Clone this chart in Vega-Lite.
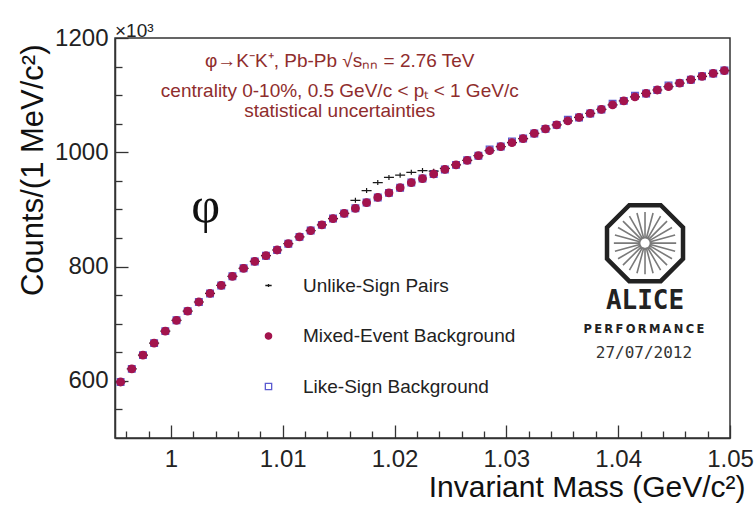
{
  "$schema": "https://vega.github.io/schema/vega-lite/v6.json",
  "width": 615,
  "height": 400,
  "autosize": {"type": "none"},
  "padding": {"left": 115, "top": 38, "right": 26, "bottom": 67},
  "background": "white",
  "title": {"text": "×10³", "anchor": "start", "frame": "group", "fontSize": 19, "fontWeight": "normal", "font": "Liberation Sans", "color": "#222", "offset": 4, "dy": 19},
  "config": {
    "view": {"stroke": "#333", "strokeWidth": 1.5},
    "axis": {"grid": true, "gridColor": "#333", "gridWidth": 1.3, "gridOpacity": 1, "ticks": false, "tickSize": 0, "domainColor": "#333", "domainWidth": 1.5, "labelFont": "Liberation Sans", "labelFontSize": 24, "labelColor": "#222", "titleFont": "Liberation Sans", "titleFontWeight": "normal", "titleColor": "#111"}
  },
  "datasets": {
    "bins": [
      {"m": 0.9955, "bkg": 598, "unlike": 598, "like": 598},
      {"m": 0.9965, "bkg": 621, "unlike": 621, "like": 621},
      {"m": 0.9975, "bkg": 645, "unlike": 645, "like": 645},
      {"m": 0.9985, "bkg": 666, "unlike": 666, "like": 666},
      {"m": 0.9995, "bkg": 687, "unlike": 687, "like": 687},
      {"m": 1.0005, "bkg": 706, "unlike": 706, "like": 706},
      {"m": 1.0015, "bkg": 722, "unlike": 722, "like": 722},
      {"m": 1.0025, "bkg": 738, "unlike": 738, "like": 738},
      {"m": 1.0035, "bkg": 753, "unlike": 753, "like": 753},
      {"m": 1.0045, "bkg": 767, "unlike": 767, "like": 767},
      {"m": 1.0055, "bkg": 783, "unlike": 783, "like": 783},
      {"m": 1.0065, "bkg": 797, "unlike": 797, "like": 797},
      {"m": 1.0075, "bkg": 809, "unlike": 809, "like": 809},
      {"m": 1.0085, "bkg": 819, "unlike": 819, "like": 819},
      {"m": 1.0095, "bkg": 829, "unlike": 829, "like": 829},
      {"m": 1.0105, "bkg": 840, "unlike": 840, "like": 840},
      {"m": 1.0115, "bkg": 852, "unlike": 852, "like": 852},
      {"m": 1.0125, "bkg": 863, "unlike": 863, "like": 863},
      {"m": 1.0135, "bkg": 873, "unlike": 873, "like": 873},
      {"m": 1.0145, "bkg": 884, "unlike": 884, "like": 884},
      {"m": 1.0155, "bkg": 893, "unlike": 893, "like": 893},
      {"m": 1.0165, "bkg": 902, "unlike": 916, "like": 902},
      {"m": 1.0175, "bkg": 912, "unlike": 933, "like": 912},
      {"m": 1.0185, "bkg": 921, "unlike": 947, "like": 921},
      {"m": 1.0195, "bkg": 929, "unlike": 956, "like": 929},
      {"m": 1.0205, "bkg": 938, "unlike": 960, "like": 938},
      {"m": 1.0215, "bkg": 947, "unlike": 965, "like": 947},
      {"m": 1.0225, "bkg": 954, "unlike": 968, "like": 954},
      {"m": 1.0235, "bkg": 962, "unlike": 967, "like": 962},
      {"m": 1.0245, "bkg": 970, "unlike": 972, "like": 970},
      {"m": 1.0255, "bkg": 978, "unlike": 978, "like": 978},
      {"m": 1.0265, "bkg": 986, "unlike": 986, "like": 986},
      {"m": 1.0275, "bkg": 994, "unlike": 994, "like": 994},
      {"m": 1.0285, "bkg": 1003, "unlike": 1003, "like": 1005},
      {"m": 1.0295, "bkg": 1010, "unlike": 1010, "like": 1010},
      {"m": 1.0305, "bkg": 1017, "unlike": 1017, "like": 1019},
      {"m": 1.0315, "bkg": 1024, "unlike": 1024, "like": 1024},
      {"m": 1.0325, "bkg": 1033, "unlike": 1033, "like": 1033},
      {"m": 1.0335, "bkg": 1041, "unlike": 1041, "like": 1041},
      {"m": 1.0345, "bkg": 1048, "unlike": 1048, "like": 1048},
      {"m": 1.0355, "bkg": 1055, "unlike": 1055, "like": 1057},
      {"m": 1.0365, "bkg": 1061, "unlike": 1061, "like": 1061},
      {"m": 1.0375, "bkg": 1068, "unlike": 1068, "like": 1068},
      {"m": 1.0385, "bkg": 1075, "unlike": 1075, "like": 1075},
      {"m": 1.0395, "bkg": 1083, "unlike": 1083, "like": 1085},
      {"m": 1.0405, "bkg": 1090, "unlike": 1090, "like": 1090},
      {"m": 1.0415, "bkg": 1097, "unlike": 1097, "like": 1099},
      {"m": 1.0425, "bkg": 1103, "unlike": 1103, "like": 1103},
      {"m": 1.0435, "bkg": 1109, "unlike": 1109, "like": 1109},
      {"m": 1.0445, "bkg": 1115, "unlike": 1115, "like": 1117},
      {"m": 1.0455, "bkg": 1121, "unlike": 1121, "like": 1121},
      {"m": 1.0465, "bkg": 1127, "unlike": 1127, "like": 1127},
      {"m": 1.0475, "bkg": 1133, "unlike": 1133, "like": 1133},
      {"m": 1.0485, "bkg": 1138, "unlike": 1138, "like": 1138},
      {"m": 1.0495, "bkg": 1143, "unlike": 1143, "like": 1143}
    ]
  },
  "encoding": {
    "x": {
      "field": "m", "type": "quantitative",
      "scale": {"domain": [0.995, 1.05], "nice": false, "zero": false},
      "axis": {
        "values": [0.996, 0.998, 1, 1.002, 1.004, 1.006, 1.008, 1.01, 1.012, 1.014, 1.016, 1.018, 1.02, 1.022, 1.024, 1.026, 1.028, 1.03, 1.032, 1.034, 1.036, 1.038, 1.04, 1.042, 1.044, 1.046, 1.048, 1.05],
        "format": ".2~f",
        "labelExpr": "abs(datum.value*100 - round(datum.value*100)) < 0.001 ? datum.label : ''",
        "gridDash": {"condition": {"test": "abs(datum.value*100 - round(datum.value*100)) < 0.001", "value": [0, 387, 13, 2000]}, "value": [0, 393, 7, 2000]},
        "labelPadding": 9,
        "labelFlush": false,
        "labelOverlap": false,
        "title": "Invariant Mass (GeV/c²)",
        "titleFontSize": 30,
        "titleAnchor": "end",
        "titleAlign": "right",
        "titleBaseline": "alphabetic",
        "titleX": 630,
        "titleY": 58
      }
    },
    "y": {
      "field": "v", "type": "quantitative",
      "scale": {"domain": [500, 1200], "nice": false, "zero": false},
      "axis": {
        "values": [550, 600, 650, 700, 750, 800, 850, 900, 950, 1000, 1050, 1100, 1150, 1200],
        "format": "d",
        "labelExpr": "datum.value % 200 == 0 ? datum.label : ''",
        "gridDash": {"condition": {"test": "datum.value % 200 == 0", "value": [13, 2000]}, "value": [7, 2000]},
        "labelPadding": 7,
        "labelFlush": false,
        "labelOverlap": false,
        "title": "Counts/(1 MeV/c²)",
        "titleFontSize": 31,
        "titleAnchor": "end",
        "titleAlign": "right",
        "titleBaseline": "alphabetic",
        "titleAngle": -90,
        "titleX": -73,
        "titleY": 6
      }
    }
  },
  "layer": [
    {
      "data": {"name": "bins"},
      "transform": [{"fold": ["like"], "as": ["series", "v"]}],
      "mark": {"type": "point", "filled": true, "opacity": 1, "strokeWidth": 1.2, "size": 45},
      "encoding": {
        "shape": {
          "field": "series", "type": "nominal",
          "scale": {"domain": ["unlike", "bkg", "like"], "range": ["M-1,0L1,0M0,-0.5L0,0.5", "circle", "square"]},
          "legend": {
            "title": null, "orient": "none", "legendX": 144, "legendY": 238, "direction": "vertical",
            "labelExpr": "datum.label == 'unlike' ? 'Unlike-Sign Pairs' : datum.label == 'bkg' ? 'Mixed-Event Background' : 'Like-Sign Background'",
            "labelFontSize": 19, "labelFont": "Liberation Sans", "labelColor": "#222", "labelLimit": 400,
            "symbolSize": 40, "symbolStrokeWidth": 1.3, "rowPadding": 30.5, "labelOffset": 25, "padding": 0
          }
        },
        "fill": {"field": "series", "type": "nominal", "scale": {"domain": ["unlike", "bkg", "like"], "range": ["transparent", "#a3144d", "transparent"]}},
        "stroke": {"field": "series", "type": "nominal", "scale": {"domain": ["unlike", "bkg", "like"], "range": ["#1a1a1a", "#a3144d", "#5a5ad0"]}}
      }
    },
    {
      "data": {"name": "bins"},
      "transform": [{"fold": ["unlike"], "as": ["series", "v"]}],
      "mark": {"type": "point", "filled": true, "opacity": 1, "strokeWidth": 1.2, "size": 100},
      "encoding": {
        "shape": {"field": "series", "type": "nominal", "scale": {"domain": ["unlike", "bkg", "like"], "range": ["M-1,0L1,0M0,-0.5L0,0.5", "circle", "square"]}},
        "fill": {"field": "series", "type": "nominal", "scale": {"domain": ["unlike", "bkg", "like"], "range": ["transparent", "#a3144d", "transparent"]}},
        "stroke": {"field": "series", "type": "nominal", "scale": {"domain": ["unlike", "bkg", "like"], "range": ["#1a1a1a", "#a3144d", "#5a5ad0"]}}
      }
    },
    {
      "data": {"name": "bins"},
      "transform": [{"fold": ["bkg"], "as": ["series", "v"]}],
      "mark": {"type": "point", "filled": true, "opacity": 1, "strokeWidth": 1.2, "size": 58},
      "encoding": {
        "shape": {"field": "series", "type": "nominal", "scale": {"domain": ["unlike", "bkg", "like"], "range": ["M-1,0L1,0M0,-0.5L0,0.5", "circle", "square"]}},
        "fill": {"field": "series", "type": "nominal", "scale": {"domain": ["unlike", "bkg", "like"], "range": ["transparent", "#a3144d", "transparent"]}},
        "stroke": {"field": "series", "type": "nominal", "scale": {"domain": ["unlike", "bkg", "like"], "range": ["#1a1a1a", "#a3144d", "#5a5ad0"]}}
      }
    },
    {
      "data": {"values": [
        {"m": 1.0151, "v": 1159, "t": "φ→K⁻K⁺, Pb-Pb √sₙₙ = 2.76 TeV"},
        {"m": 1.0151, "v": 1108, "t": "centrality 0-10%, 0.5 GeV/c < pₜ < 1 GeV/c"},
        {"m": 1.0151, "v": 1072, "t": "statistical uncertainties"}
      ]},
      "mark": {"type": "text", "font": "Liberation Sans", "fontSize": 19, "color": "#8f2d2d", "align": "center", "baseline": "middle"},
      "encoding": {"text": {"field": "t"}}
    },
    {
      "data": {"values": [{"m": 1.0031, "v": 905, "t": "φ"}]},
      "mark": {"type": "text", "font": "Liberation Serif", "fontSize": 50, "color": "#111", "align": "center", "baseline": "middle"},
      "encoding": {"text": {"field": "t"}}
    },
    {
      "data": {"values": [{"m": 1.0424, "v": 841}]},
      "layer": [
        {"mark": {"type": "point", "shape": "M-0.414,-1L0.414,-1L1,-0.414L1,0.414L0.414,1L-0.414,1L-1,0.414L-1,-0.414Z", "size": 5776, "filled": false, "stroke": "#222", "strokeWidth": 4.5, "opacity": 1}},
        {"mark": {"type": "point", "shape": "M0.12,0L0.82,0M0.116,0.031L0.792,0.212M0.104,0.06L0.71,0.41M0.085,0.085L0.58,0.58M0.06,0.104L0.41,0.71M0.031,0.116L0.212,0.792M0,0.12L0,0.82M-0.031,0.116L-0.212,0.792M-0.06,0.104L-0.41,0.71M-0.085,0.085L-0.58,0.58M-0.104,0.06L-0.71,0.41M-0.116,0.031L-0.792,0.212M-0.12,0L-0.82,0M-0.116,-0.031L-0.792,-0.212M-0.104,-0.06L-0.71,-0.41M-0.085,-0.085L-0.58,-0.58M-0.06,-0.104L-0.41,-0.71M-0.031,-0.116L-0.212,-0.792M0,-0.12L0,-0.82M0.031,-0.116L0.212,-0.792M0.06,-0.104L0.41,-0.71M0.085,-0.085L0.58,-0.58M0.104,-0.06L0.71,-0.41M0.116,-0.031L0.792,-0.212", "size": 5776, "filled": false, "stroke": "#7a7a7a", "strokeWidth": 1.6, "opacity": 1}}
      ]
    },
    {
      "data": {"values": [{"m": 1.0424, "v": 739, "t": "ALICE"}]},
      "mark": {"type": "text", "font": "DejaVu Sans Mono", "fontWeight": "bold", "fontSize": 26, "color": "#222", "align": "center", "baseline": "middle"},
      "encoding": {"text": {"field": "t"}}
    },
    {
      "data": {"values": [{"m": 1.0423, "v": 689, "t": "P\u2009E\u2009R\u2009F\u2009O\u2009R\u2009M\u2009A\u2009N\u2009C\u2009E"}]},
      "mark": {"type": "text", "font": "DejaVu Sans", "fontWeight": "bold", "fontSize": 11.5, "color": "#222", "align": "center", "baseline": "middle"},
      "encoding": {"text": {"field": "t"}}
    },
    {
      "data": {"values": [{"m": 1.0423, "v": 648, "t": "27/07/2012"}]},
      "mark": {"type": "text", "font": "DejaVu Sans Mono", "fontSize": 16, "color": "#333", "align": "center", "baseline": "middle"},
      "encoding": {"text": {"field": "t"}}
    }
  ]
}
